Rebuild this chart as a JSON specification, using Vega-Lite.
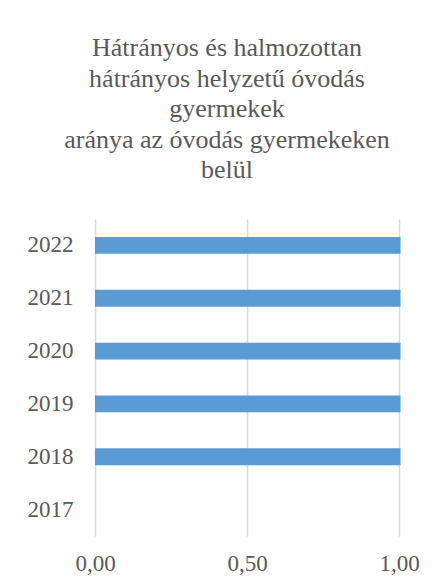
{
  "$schema": "https://vega.github.io/schema/vega-lite/v6.json",
  "width": 304,
  "height": 317,
  "autosize": {"type": "none"},
  "padding": {"left": 95, "top": 219, "right": 46, "bottom": 52},
  "background": "white",
  "title": {
    "text": ["Hátrányos és halmozottan", "hátrányos helyzetű óvodás", "gyermekek", "aránya az óvodás gyermekeken", "belül"],
    "font": "Liberation Serif",
    "fontSize": 26,
    "fontWeight": "normal",
    "color": "#595959",
    "anchor": "middle",
    "dx": -20,
    "offset": 36,
    "lineHeight": 30.5
  },
  "data": {
    "values": [
      {"year": "2017", "value": null},
      {"year": "2018", "value": 1.005},
      {"year": "2019", "value": 1.005},
      {"year": "2020", "value": 1.005},
      {"year": "2021", "value": 1.005},
      {"year": "2022", "value": 1.005}
    ]
  },
  "mark": {"type": "bar", "color": "#5b9bd5"},
  "encoding": {
    "y": {
      "field": "year",
      "type": "nominal",
      "sort": "descending",
      "scale": {"paddingInner": 0.68, "paddingOuter": 0.34},
      "axis": {
        "title": null,
        "domain": false,
        "ticks": false,
        "grid": false,
        "labelFont": "Liberation Serif",
        "labelFontSize": 23,
        "labelColor": "#595959",
        "labelPadding": 22
      }
    },
    "x": {
      "field": "value",
      "type": "quantitative",
      "scale": {"domain": [0, 1], "nice": false, "zero": true},
      "axis": {
        "title": null,
        "values": [0, 0.5, 1],
        "labelExpr": "replace(format(datum.value, '.2f'), '.', ',')",
        "domain": false,
        "ticks": false,
        "grid": true,
        "gridColor": "#d9d9d9",
        "gridWidth": 1.5,
        "labelFont": "Liberation Serif",
        "labelFontSize": 23,
        "labelColor": "#595959",
        "labelPadding": 16,
        "labelFlush": false
      }
    }
  },
  "config": {"view": {"stroke": null}}
}
